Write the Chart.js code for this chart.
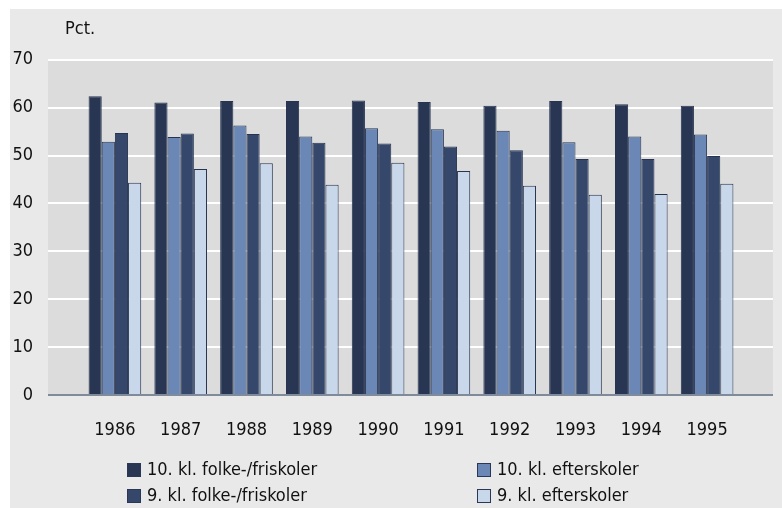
<!DOCTYPE html>
<html>
<head>
<meta charset="utf-8">
<script src="https://cdn.jsdelivr.net/npm/chart.js@4.4.0/dist/chart.umd.min.js"></script>
<style>
  html, body { margin: 0; padding: 0; background: #fff; }
  #wrap { position: relative; width: 782px; height: 508px; }
</style>
</head>
<body>
<div id="wrap"><canvas id="chart" width="782" height="508"></canvas></div>
<script>
const years = ["1986", "1987", "1988", "1989", "1990", "1991", "1992", "1993", "1994", "1995"];
const kl10Folke = [62.4, 61.1, 61.4, 61.4, 61.5, 61.2, 60.4, 61.4, 60.7, 60.4];
const kl10Efter = [52.9, 53.9, 56.3, 54.0, 55.7, 55.5, 55.2, 52.8, 54.0, 54.4];
const kl9Folke = [54.7, 54.6, 54.5, 52.7, 52.5, 51.9, 51.1, 49.3, 49.3, 49.9];
const kl9Efter = [44.3, 47.2, 48.4, 43.9, 48.5, 46.8, 43.7, 41.8, 42.0, 44.1];
const yTicks = [0, 10, 20, 30, 40, 50, 60, 70];

const FONT = "'Liberation Sans Narrow', 'DejaVu Sans Condensed', sans-serif";
const SIZE = 18;
const txt = "#111";

// plot background, white grid lines, axis line, unit label
const backdrop = {
  id: "backdrop",
  beforeDraw(chart) {
    const { ctx, chartArea, scales } = chart;
    const y = scales.y;
    const left = 48, right = 773;
    ctx.save();
    ctx.fillStyle = "#e9e9e9";
    ctx.fillRect(10, 9, 772, 499);
    ctx.fillStyle = "#dcdcdc";
    ctx.fillRect(left, chartArea.top, right - left, chartArea.bottom - chartArea.top);
    ctx.strokeStyle = "#ffffff";
    ctx.lineWidth = 2;
    yTicks.slice(1).forEach(v => {
      const py = Math.round(y.getPixelForValue(v));
      ctx.beginPath();
      ctx.moveTo(left, py);
      ctx.lineTo(right, py);
      ctx.stroke();
    });
    ctx.fillStyle = txt;
    ctx.font = SIZE + "px " + FONT;
    ctx.textBaseline = "middle";
    ctx.textAlign = "left";
    ctx.fillText("Pct.", 65, 29);
    ctx.restore();
  },
  afterDatasetsDraw(chart) {
    const { ctx, chartArea } = chart;
    ctx.save();
    ctx.strokeStyle = "#7f8a9b";
    ctx.lineWidth = 2;
    ctx.beginPath();
    ctx.moveTo(48, chartArea.bottom);
    ctx.lineTo(773, chartArea.bottom);
    ctx.stroke();
    ctx.restore();
  }
};

// two-column legend under the axis
const gridLegend = {
  id: "gridLegend",
  afterDraw(chart) {
    const { ctx } = chart;
    const cols = [127, 477];
    const rows = [470, 496];
    ctx.save();
    ctx.font = SIZE + "px " + FONT;
    ctx.textBaseline = "middle";
    ctx.textAlign = "left";
    chart.data.datasets.forEach((ds, i) => {
      const x = cols[i % 2];
      const y = rows[Math.floor(i / 2)];
      ctx.fillStyle = ds.backgroundColor;
      ctx.fillRect(x, y - 7, 14, 14);
      ctx.strokeStyle = "#2a3756";
      ctx.lineWidth = 1;
      ctx.strokeRect(x + 0.5, y - 6.5, 13, 13);
      ctx.fillStyle = txt;
      ctx.fillText(ds.label, x + 20, y);
    });
    ctx.restore();
  }
};

new Chart(document.getElementById("chart"), {
  type: "bar",
  data: {
    labels: years,
    datasets: [
      { label: "10. kl. folke-/friskoler", data: kl10Folke, backgroundColor: "#283654" },
      { label: "10. kl. efterskoler", data: kl10Efter, backgroundColor: "#6b87b5" },
      { label: "9. kl. folke-/friskoler", data: kl9Folke, backgroundColor: "#35476b" },
      { label: "9. kl. efterskoler", data: kl9Efter, backgroundColor: "#c8d7ea" }
    ].map(ds => Object.assign(ds, {
      borderColor: "#27344f",
      borderWidth: 1,
      categoryPercentage: 0.8,
      barPercentage: 1
    }))
  },
  options: {
    responsive: false,
    animation: false,
    layout: { padding: { top: 41, right: 42, bottom: 0, left: 0 } },
    plugins: {
      legend: { display: false },
      tooltip: { enabled: false }
    },
    scales: {
      x: {
        grid: { display: false, drawTicks: false },
        border: { display: false },
        ticks: { color: txt, font: { family: FONT, size: SIZE }, padding: 25 },
        afterFit(scale) { scale.height = 113; }
      },
      y: {
        min: 0,
        max: 70,
        grid: { display: false, drawTicks: false },
        border: { display: false },
        ticks: { stepSize: 10, color: txt, font: { family: FONT, size: SIZE }, padding: 49 },
        afterFit(scale) { scale.width = 82; }
      }
    }
  },
  plugins: [backdrop, gridLegend]
});
</script>
</body>
</html>
